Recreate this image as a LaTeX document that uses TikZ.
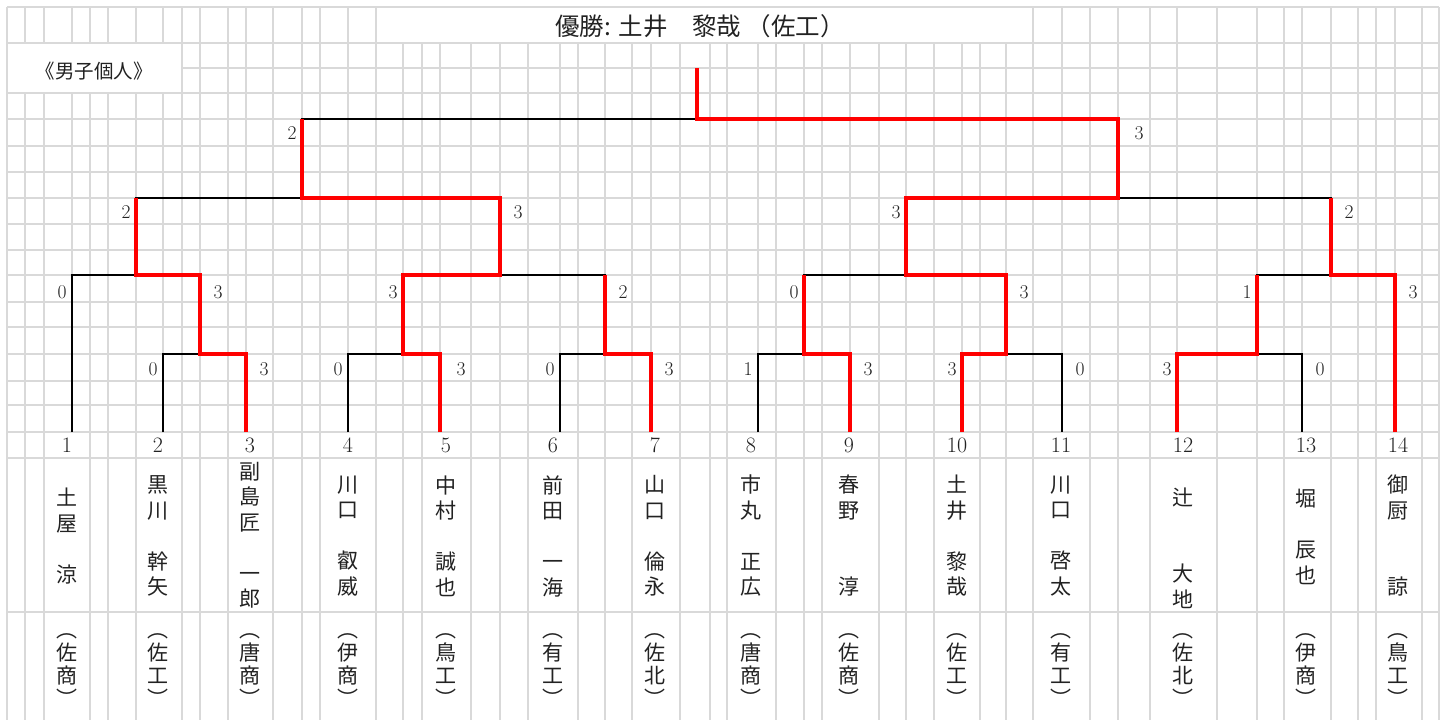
\documentclass[tikz,border=0pt]{standalone}
\usepackage{fontspec}
\newfontfamily\cjk{Noto Sans CJK JP}
\usetikzlibrary{calc}
\definecolor{gridc}{RGB}{217,217,217}
\definecolor{winred}{RGB}{255,0,0}
\definecolor{txt}{RGB}{34,34,34}
\begin{document}
\begin{tikzpicture}[x=1pt,y=-1pt,
  gridline/.style={draw=gridc, line width=2pt},
  bracket/.style={draw=black, line width=2pt},
  win/.style={draw=winred, line width=4pt},
  score/.style={font=\fontsize{19.5}{19.5}\selectfont, text=txt, inner sep=0pt},
  pnum/.style={font=\fontsize{22}{22}\selectfont, text=txt, inner sep=0pt},
  pname/.style={font=\cjk\fontsize{21}{25.5}\selectfont, text=txt, align=center, inner sep=0pt},
  school/.style={font=\cjk\fontsize{21}{23}\selectfont, text=txt, align=center, inner sep=0pt}]
\useasboundingbox (0,0) rectangle (1451,720);
\fill[white] (0,0) rectangle (1451,720);
% ---------- grid ----------
\foreach \y in {7,43,93,119,146,172,198,224,250,275,302,327,354,381,405,432,458,612}
  \draw[gridline] (7,\y) -- (1439,\y);
\draw[gridline] (182,68) -- (1439,68);
\foreach \x in {25,44,90,108,136} {
  \draw[gridline] (\x,7) -- (\x,43);
  \draw[gridline] (\x,93) -- (\x,720);}
\foreach \x in {72,163} {
  \draw[gridline] (\x,7) -- (\x,43);
  \draw[gridline] (\x,93) -- (\x,432);}
\foreach \x in {7,182,200,228,273,302,320,376,1033,1090,1118,1150,1217,1257,1284,1331,1358,1376,1422,1439}
  \draw[gridline] (\x,7) -- (\x,720);
\foreach \x in {246,348,1062,1177,1302,1395}
  \draw[gridline] (\x,7) -- (\x,432);
\foreach \x in {403,422,471,500,528,578,605,632,680,710,727,776,804,822,879,906,934,980,1006}
  \draw[gridline] (\x,43) -- (\x,720);
\foreach \x in {440,560,651,758,850,962}
  \draw[gridline] (\x,43) -- (\x,432);
% ---------- bracket coordinates ----------
\coordinate (p1) at (72,432);
\coordinate (p2) at (163,432);
\coordinate (p3) at (246,432);
\coordinate (p4) at (348,432);
\coordinate (p5) at (440,432);
\coordinate (p6) at (560,432);
\coordinate (p7) at (651,432);
\coordinate (p8) at (758,432);
\coordinate (p9) at (850,432);
\coordinate (p10) at (962,432);
\coordinate (p11) at (1062,432);
\coordinate (p12) at (1177,432);
\coordinate (p13) at (1302,432);
\coordinate (p14) at (1395,432);
\coordinate (a23) at (200,354);
\coordinate (a45) at (403,354);
\coordinate (a67) at (605,354);
\coordinate (a89) at (804,354);
\coordinate (a1011) at (1006,354);
\coordinate (a1213) at (1257,354);
\coordinate (b1) at (136,275);
\coordinate (b2) at (500,275);
\coordinate (b3) at (906,275);
\coordinate (b4) at (1331,275);
\coordinate (c1) at (302,198);
\coordinate (c2) at (1118,198);
\coordinate (f) at (697,119);
\coordinate (top) at (697,68);
% ---------- black bracket ----------
\draw[bracket] (p2) |- (a23) -| (p3);
\draw[bracket] (p4) |- (a45) -| (p5);
\draw[bracket] (p6) |- (a67) -| (p7);
\draw[bracket] (p8) |- (a89) -| (p9);
\draw[bracket] (p10) |- (a1011) -| (p11);
\draw[bracket] (p12) |- (a1213) -| (p13);
\draw[bracket] (p1) |- (b1) -| (a23);
\draw[bracket] (a45) |- (b2) -| (a67);
\draw[bracket] (a89) |- (b3) -| (a1011);
\draw[bracket] (a1213) |- (b4) -| (p14);
\draw[bracket] (b1) |- (c1) -| (b2);
\draw[bracket] (b3) |- (c2) -| (b4);
\draw[bracket] (c1) |- (f) -| (c2);
\draw[bracket] (f) -- (top);
% ---------- winners (red) ----------
\draw[win] (p10) |- (a1011) |- (b3) |- (c2) |- (f) -- (top);
\draw[win] (p3) |- (a23) |- (b1) -- (b1 |- c1);
\draw[win] (p5) |- (a45) |- (b2) |- (c1) -- (c1 |- f);
\draw[win] (p7) |- (a67) -- (a67 |- b2);
\draw[win] (p9) |- (a89) -- (a89 |- b3);
\draw[win] (p12) |- (a1213) -- (a1213 |- b4);
\draw[win] (p14) |- (b4) -- (b4 |- c2);
% ---------- scores ----------
\node[score] (s1L) at ($(p2|-a23)+(-10,15)$) {0};
\node[score] (s1R) at ($(p3|-a23)+(18,15)$) {3};
\node[score] (s2L) at ($(p4|-a45)+(-10,15)$) {0};
\node[score] (s2R) at ($(p5|-a45)+(21,15)$) {3};
\node[score] (s3L) at ($(p6|-a67)+(-10,15)$) {0};
\node[score] (s3R) at ($(p7|-a67)+(18,15)$) {3};
\node[score] (s4L) at ($(p8|-a89)+(-10,15)$) {1};
\node[score] (s4R) at ($(p9|-a89)+(18,15)$) {3};
\node[score] (s5L) at ($(p10|-a1011)+(-10,15)$) {3};
\node[score] (s5R) at ($(p11|-a1011)+(18,15)$) {0};
\node[score] (s6L) at ($(p12|-a1213)+(-10,15)$) {3};
\node[score] (s6R) at ($(p13|-a1213)+(18,15)$) {0};
\node[score] (t1L) at ($(p1|-b1)+(-10,17)$) {0};
\node[score] (t1R) at ($(a23|-b1)+(18,17)$) {3};
\node[score] (t2L) at ($(a45|-b2)+(-10,17)$) {3};
\node[score] (t2R) at ($(a67|-b2)+(18,17)$) {2};
\node[score] (t3L) at ($(a89|-b3)+(-10,17)$) {0};
\node[score] (t3R) at ($(a1011|-b3)+(18,17)$) {3};
\node[score] (t4L) at ($(a1213|-b4)+(-10,17)$) {1};
\node[score] (t4R) at ($(p14|-b4)+(18,17)$) {3};
\node[score] (u1L) at ($(b1|-c1)+(-10,14)$) {2};
\node[score] (u1R) at ($(b2|-c1)+(18,14)$) {3};
\node[score] (u2L) at ($(b3|-c2)+(-10,14)$) {3};
\node[score] (u2R) at ($(b4|-c2)+(18,14)$) {2};
\node[score] (vL) at ($(c1|-f)+(-10,14)$) {2};
\node[score] (vR) at ($(c2|-f)+(21,14)$) {3};
% ---------- titles ----------
\node[font=\cjk\fontsize{24.5}{24.5}\selectfont, text=txt, inner sep=0pt] (title) at (700,26) {優勝: 土井　黎哉 （佐工）};
\node[font=\cjk\fontsize{19.5}{19.5}\selectfont, text=txt, inner sep=0pt] (cat) at (94,71) {《男子個人》};
% ---------- players ----------
\foreach \i/\x/\nm/\ny/\sc in {
  1/67/{土\\屋\\　\\涼}/536/{佐\\商},
  2/158/{黒\\川\\　\\幹\\矢}/536/{佐\\工},
  3/250/{副\\島\\匠\\　\\一\\郎}/535/{唐\\商},
  4/348/{川\\口\\　\\叡\\威}/536/{伊\\商},
  5/446/{中\\村\\　\\誠\\也}/536/{鳥\\工},
  6/553/{前\\田\\　\\一\\海}/536/{有\\工},
  7/655/{山\\口\\　\\倫\\永}/536/{佐\\北},
  8/751/{市\\丸\\　\\正\\広}/536/{唐\\商},
  9/849/{春\\野\\　\\　\\淳}/536/{佐\\商},
  10/957/{土\\井\\　\\黎\\哉}/536/{佐\\工},
  11/1061/{川\\口\\　\\啓\\太}/536/{有\\工},
  12/1183/{辻\\　\\　\\大\\地}/548/{佐\\北},
  13/1306/{堀\\　\\辰\\也}/537/{伊\\商},
  14/1398/{御\\厨\\　\\　\\諒}/536/{鳥\\工}} {
  \node[pnum] (n\i) at (\x,445) {\i};
  \node[pname] (nm\i) at (\x,\ny) {\nm};
  \node[school] (sc\i) at (\x,670) {︵\\\sc\\︶};
}
\end{tikzpicture}
\end{document}
